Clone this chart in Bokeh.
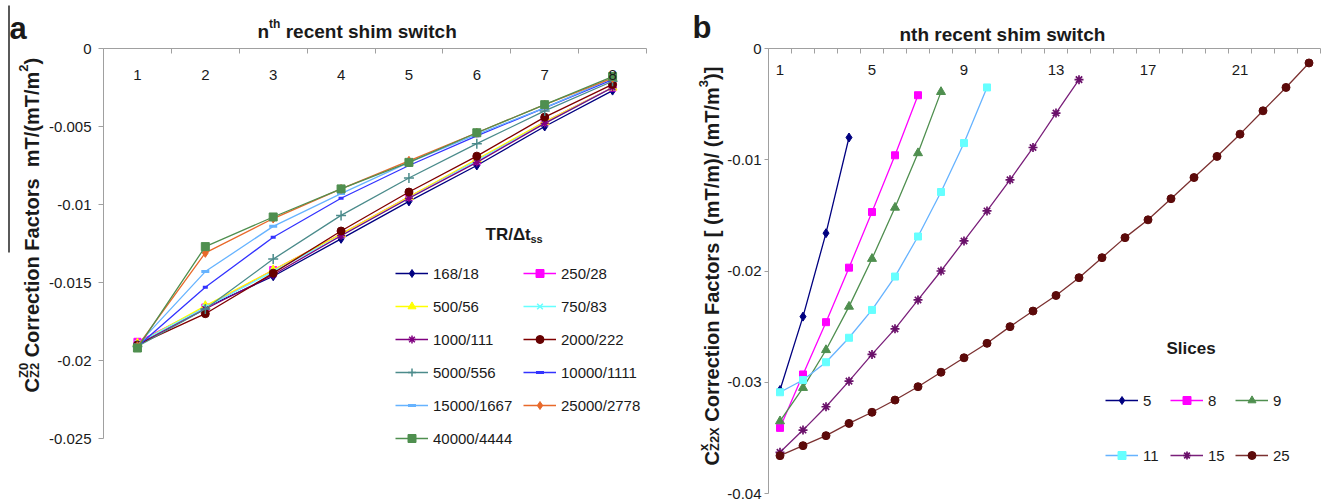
import math
from bokeh.plotting import figure
from bokeh.models import Range1d, FixedTicker, Label, Legend, LegendItem, Arrow
from bokeh.layouts import row
from bokeh.embed import file_html
from bokeh.resources import INLINE

# ---------------- Panel a data ----------------
a_categories = [1, 2, 3, 4, 5, 6, 7, 8]
a_x_tick_labels = ["1", "2", "3", "4", "5", "6", "7", "8"]
a_y_ticks = [0, -0.005, -0.01, -0.015, -0.02, -0.025]
a_y_tick_labels = ["0", "-0.005", "-0.01", "-0.015", "-0.02", "-0.025"]

a_168_18 = [-0.0189, -0.0166, -0.0146, -0.0122, -0.0098, -0.0075, -0.0050, -0.0027]
a_250_28 = [-0.0188, -0.0166, -0.0142, -0.0119, -0.0095, -0.0072, -0.0047, -0.0025]
a_500_56 = [-0.0189, -0.0165, -0.0142, -0.0119, -0.0095, -0.0071, -0.0047, -0.0025]
a_750_83 = [-0.0189, -0.0166, -0.0143, -0.0120, -0.0096, -0.0072, -0.0048, -0.0025]
a_1000_111 = [-0.0190, -0.0167, -0.0145, -0.0120, -0.0096, -0.0073, -0.0048, -0.0025]
a_2000_222 = [-0.0190, -0.0170, -0.0144, -0.0117, -0.0092, -0.0069, -0.0044, -0.0023]
a_5000_556 = [-0.0191, -0.0167, -0.0135, -0.0107, -0.0083, -0.0061, -0.0040, -0.0021]
a_10000_1111 = [-0.0191, -0.0153, -0.0121, -0.0096, -0.0075, -0.0056, -0.0038, -0.0020]
a_15000_1667 = [-0.0190, -0.0143, -0.0114, -0.0093, -0.0073, -0.0055, -0.0038, -0.0019]
a_25000_2778 = [-0.0191, -0.0131, -0.0109, -0.0090, -0.0072, -0.0054, -0.0036, -0.0019]
a_40000_4444 = [-0.0192, -0.0127, -0.0108, -0.0090, -0.0073, -0.0054, -0.0036, -0.0018]
a_series_names = ["168/18", "250/28", "500/56", "750/83", "1000/111", "2000/222",
                  "5000/556", "10000/1111", "15000/1667", "25000/2778", "40000/4444"]

# ---------------- Panel b data ----------------
b_x_tick_values = [1, 5, 9, 13, 17, 21]
b_x_tick_labels = ["1", "5", "9", "13", "17", "21"]
b_y_ticks = [0, -0.01, -0.02, -0.03, -0.04]
b_y_tick_labels = ["0", "-0.01", "-0.02", "-0.03", "-0.04"]

b_5 = [-0.0307, -0.0241, -0.0166, -0.0080]
b_8 = [-0.0341, -0.0293, -0.0246, -0.0197, -0.0147, -0.0096, -0.0042]
b_9 = [-0.0335, -0.0305, -0.0271, -0.0232, -0.0189, -0.0143, -0.0094, -0.0039]
b_11 = [-0.0309, -0.0298, -0.0282, -0.0260, -0.0235, -0.0205, -0.0169, -0.0129, -0.0085, -0.0035]
b_15 = [-0.0363, -0.0343, -0.0322, -0.0299, -0.0275, -0.0252, -0.0226, -0.0200, -0.0173,
        -0.0146, -0.0118, -0.0089, -0.0058, -0.0028]
b_25 = [-0.0366, -0.0357, -0.0348, -0.0337, -0.0327, -0.0316, -0.0304, -0.0291, -0.0278,
        -0.0265, -0.0250, -0.0236, -0.0222, -0.0206, -0.0188, -0.0170, -0.0154, -0.0135,
        -0.0116, -0.0097, -0.0077, -0.0056, -0.0035, -0.0013]
b_series_names = ["5", "8", "9", "11", "15", "25"]

# ---------------- styles ----------------
FONT = "Liberation Sans"
AXIS_GRAY = "#a0a0a0"
TEXT = "#1a1a1a"

a_styles = [
    # marker color, line color, marker, size, marker line width
    ("#000080", "#000080", "diamond", 9, 1),
    ("#FF00FF", "#FF00FF", "square", 7, 1),
    ("#FFFF00", "#FFFF00", "triangle", 9, 1),
    ("#66FFFF", "#66FFFF", "x", 8, 1.5),
    ("#800080", "#800080", "asterisk", 8, 1.5),
    ("#660000", "#800000", "circle", 8, 1),
    ("#4B8B8B", "#4B8B8B", "cross", 10, 1.5),
    ("#3333FF", "#3333FF", "dash", 5, 3),
    ("#66B3FF", "#66B3FF", "dash", 8, 3),
    ("#E8692A", "#E8692A", "diamond", 9, 1),
    ("#4F8F4F", "#4F8F4F", "square", 8, 1),
]
b_styles = [
    ("#000080", "#000080", "diamond", 9, 1),
    ("#FF00FF", "#FF00FF", "square", 7, 1),
    ("#4F8F4F", "#4F8F4F", "triangle", 9, 1),
    ("#66FFFF", "#66B3FF", "square", 7, 1),
    ("#6A106A", "#7A1F7A", "asterisk", 9, 1.7),
    ("#5C0A0A", "#7B3030", "circle", 8, 1),
]

# Arial/Liberation Sans Bold advance widths (per em)
BW = {" ": .278, "(": .333, ")": .333, "/": .278, ".": .278, "-": .333, "[": .333, "]": .333,
      "C": .722, "F": .611, "R": .722, "S": .667, "T": .611, "X": .667, "Z": .611, "Δ": .70,
      "a": .556, "c": .556, "e": .556, "h": .611, "i": .278, "l": .278, "m": .889, "n": .611,
      "o": .611, "r": .389, "s": .556, "t": .333, "w": .778, "x": .556}


def bwidth(txt, size):
    return sum(BW.get(ch, .556) for ch in txt) * size


# ---------------- geometry (page pixels; frames fill the figures) ----------------
H = 500
A_W = 690
AX0, AX1, AY0, AY1 = 103, 646, 48, 438      # where x=0.5 / 8.5 and y=0 / -0.025 fall
B_LEFT = A_W
B_W = 1323 - A_W
BX0, BX1, BY0, BY1 = 768, 1320, 48, 493     # where x=0.5 / 24.5 and y=0 / -0.04 fall

a_kx = (AX1 - AX0) / 8.0
a_ky = (AY1 - AY0) / 0.025
b_kx = (BX1 - BX0) / 24.0
b_ky = (BY1 - BY0) / 0.04


def a_x(px):
    return 0.5 + (px - AX0) / a_kx


def a_y(py):
    return -(py - AY0) / a_ky


def b_x(px):
    return 0.5 + (px - BX0) / b_kx


def b_y(py):
    return -(py - BY0) / b_ky


def make_fig(w, xr, yr):
    p = figure(width=w, height=H, output_backend="svg", toolbar_location=None,
               x_range=xr, y_range=yr, x_axis_location="above",
               min_border=0, min_border_left=0, min_border_right=0,
               min_border_top=0, min_border_bottom=0)
    p.xgrid.visible = False
    p.ygrid.visible = False
    p.outline_line_color = None
    p.background_fill_color = "white"
    p.border_fill_color = "white"
    for ax in (p.xaxis[0], p.yaxis[0]):
        ax.axis_line_color = AXIS_GRAY
        ax.major_tick_line_color = AXIS_GRAY
        ax.minor_tick_line_color = AXIS_GRAY
        ax.major_label_text_font = FONT
        ax.major_label_text_font_size = "15px"
        ax.major_label_text_color = TEXT
    return p


def lbl(p, x, y, text, size, angle=0.0, bold=True, align="left", baseline="alphabetic"):
    p.add_layout(Label(x=x, y=y, text=text, angle=angle, text_font=FONT,
                       text_font_size=f"{size}px", text_font_style="bold" if bold else "normal",
                       text_color=TEXT, text_align=align, text_baseline=baseline))


def rich_horizontal(p, fx, fy, x0, base, pieces):
    """pieces: (text, size, raise_px, gap_before_px)"""
    x = x0
    for text, size, rz, gap in pieces:
        x += gap
        lbl(p, fx(x), fy(base - rz), text, size)
        x += bwidth(text, size)


def rich_vertical(p, fx, fy, base_x, y0, pieces):
    """rotated 90 deg; text runs upward. pieces: (text, size, raise_px, gap_before_px, advance)"""
    y = y0
    for text, size, rz, gap, adv in pieces:
        y -= gap
        lbl(p, fx(base_x - rz), fy(y), text, size, angle=math.pi / 2)
        if adv:
            y -= bwidth(text, size)


def make_legend(items, loc, spacing):
    return Legend(items=items, location=loc, orientation="vertical",
                  border_line_color=None, background_fill_alpha=0,
                  label_text_font=FONT, label_text_font_size="15px", label_text_color=TEXT,
                  glyph_width=33, glyph_height=20, label_height=20, label_standoff=5,
                  padding=0, margin=0, spacing=spacing)


# ================= Panel a =================
p1 = make_fig(A_W, Range1d(a_x(0), a_x(A_W)), Range1d(a_y(H), a_y(0)))
xa = p1.xaxis[0]
xa.fixed_location = 0
xa.bounds = (0.5, 8.5)
xa.ticker = FixedTicker(ticks=a_categories, minor_ticks=[c - 0.5 for c in a_categories] + [8.5])
xa.major_label_overrides = {c: t for c, t in zip(a_categories, a_x_tick_labels)}
xa.major_tick_in = 0
xa.major_tick_out = 0
xa.minor_tick_in = 5
xa.minor_tick_out = 0
xa.major_label_standoff = -31
ya = p1.yaxis[0]
ya.fixed_location = 0.5
ya.bounds = (-0.025, 0)
ya.ticker = FixedTicker(ticks=a_y_ticks, minor_ticks=[])
ya.major_label_overrides = {v: t for v, t in zip(a_y_ticks, a_y_tick_labels)}
ya.major_tick_in = 0
ya.major_tick_out = 5
ya.minor_tick_in = 0
ya.minor_tick_out = 0
ya.major_label_standoff = 7

a_values = [a_168_18, a_250_28, a_500_56, a_750_83, a_1000_111, a_2000_222,
            a_5000_556, a_10000_1111, a_15000_1667, a_25000_2778, a_40000_4444]
a_items = []
for name, vals, (mc, lc, mk, sz, mlw) in zip(a_series_names, a_values, a_styles):
    rl = p1.line(a_categories, vals, line_color=lc, line_width=1.3)
    rs = p1.scatter(a_categories, vals, marker=mk, size=sz, fill_color=mc, line_color=mc,
                    line_width=mlw)
    a_items.append(LegendItem(label=name, renderers=[rl, rs]))

p1.add_layout(make_legend(a_items[0::2], (395, H - (263 + 6 * 20 + 5 * 13)), 13))
p1.add_layout(make_legend(a_items[1::2], (523, H - (263 + 5 * 20 + 4 * 13)), 13))

rich_horizontal(p1, a_x, a_y, 485, 234, [("TR/Δt", 17, 0, 0), ("ss", 11, -4, 0)])
rich_horizontal(p1, a_x, a_y, 257, 31, [("n", 19, 0, 0), ("th", 12, 8, 0),
                                        ("recent shim switch", 19, 0, bwidth(" ", 19))])

lbl(p1, a_x(9), a_y(28), "a", 31)
p1.add_layout(Arrow(end=None, x_start=a_x(8.5), y_start=a_y(5), x_end=a_x(8.5), y_end=a_y(252),
                    line_color="black", line_width=1.3))

S20 = bwidth(" ", 20)
rich_vertical(p1, a_x, a_y, 31, 392, [
    ("C", 20, 0, 0, True),
    ("Z0", 13, 8, 0, False),
    ("Z2", 13, -3, 0, True),
    ("Correction Factors", 20, 0, S20, True),
    ("mT/(mT/m", 20, 0, 2 * S20, True),
    ("2", 13, 8, 0, True),
    (")", 20, 0, 0, True),
])

# ================= Panel b =================
p2 = make_fig(B_W, Range1d(b_x(B_LEFT), b_x(B_LEFT + B_W)), Range1d(b_y(H), b_y(0)))
xb = p2.xaxis[0]
xb.fixed_location = 0
xb.bounds = (0.5, 24.5)
xb.ticker = FixedTicker(ticks=b_x_tick_values, minor_ticks=[k + 0.5 for k in range(25)])
xb.major_label_overrides = {c: t for c, t in zip(b_x_tick_values, b_x_tick_labels)}
xb.major_tick_in = 0
xb.major_tick_out = 0
xb.minor_tick_in = 5
xb.minor_tick_out = 0
xb.major_label_standoff = -26
yb = p2.yaxis[0]
yb.fixed_location = 0.5
yb.bounds = (-0.04, 0)
yb.ticker = FixedTicker(ticks=b_y_ticks, minor_ticks=[])
yb.major_label_overrides = {v: t for v, t in zip(b_y_ticks, b_y_tick_labels)}
yb.major_tick_in = 0
yb.major_tick_out = 4
yb.minor_tick_in = 0
yb.minor_tick_out = 0
yb.major_label_standoff = 3

b_values = [b_5, b_8, b_9, b_11, b_15, b_25]
b_items = []
for name, vals, (mc, lc, mk, sz, mlw) in zip(b_series_names, b_values, b_styles):
    xs = list(range(1, len(vals) + 1))
    rl = p2.line(xs, vals, line_color=lc, line_width=1.3)
    rs = p2.scatter(xs, vals, marker=mk, size=sz, fill_color=mc, line_color=mc, line_width=mlw)
    b_items.append(LegendItem(label=name, renderers=[rl, rs]))

b_leg_bottom = 390 + 20 + 35 + 20
for k, gx in enumerate([1105, 1170, 1235]):
    p2.add_layout(make_legend([b_items[k], b_items[k + 3]], (gx - B_LEFT, H - b_leg_bottom), 35))

lbl(p2, b_x(1166), b_y(348), "Slices", 17)
lbl(p2, b_x(899), b_y(34), "nth recent shim switch", 19)
lbl(p2, b_x(692), b_y(27), "b", 31)

rich_vertical(p2, b_x, b_y, 711, 465, [
    ("C", 20, 0, 0, True),
    ("x", 13, 8, 0, False),
    ("Z2X", 13, -3, 0, True),
    ("Correction Factors", 20, 0, S20, True),
    ("[ (mT/m)/ (mT/m", 20, 0, S20, True),
    ("3", 13, 8, 0, True),
    (")]", 20, 0, 0, True),
])

layout = row(p1, p2)
open("out.html", "w").write(file_html(layout, INLINE))
